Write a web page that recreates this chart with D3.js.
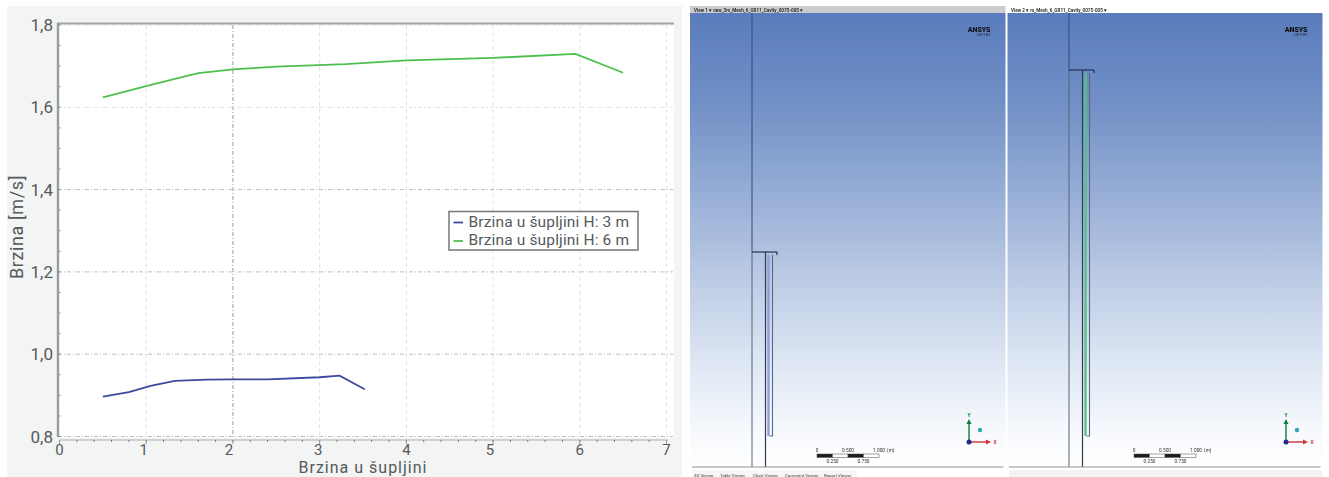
<!DOCTYPE html>
<html><head><meta charset="utf-8">
<style>html,body{margin:0;padding:0;background:#fff;overflow:hidden}svg{display:block}text{font-family:Roboto,sans-serif}</style>
<script src="https://cdn.jsdelivr.net/npm/d3@7"></script></head><body>
<svg id="c" width="1329" height="477"></svg>
<script>
const xTickValues=[0,1,2,3,4,5,6,7];
const yTickValues=[0.8,1.0,1.2,1.4,1.6,1.8];
const blueX=[0.5,0.8,1.05,1.33,1.7,2,2.4,3,3.23,3.52];
const blueY=[0.897,0.908,0.923,0.935,0.938,0.939,0.939,0.944,0.948,0.915];
const greenX=[0.5,1.1,1.6,2,2.5,3.3,4,5,5.95,6.5];
const greenY=[1.624,1.657,1.683,1.692,1.699,1.705,1.714,1.72,1.73,1.684];
const seriesNames=["Brzina u šupljini H: 3 m","Brzina u šupljini H: 6 m"];
const xTitle="Brzina u šupljini", yTitle="Brzina [m/s]";
const scaleTop=["0","0.500","1.000"], scaleBottom=["0.250","0.750"];
const tabs=["3D Viewer","Table Viewer","Chart Viewer","Comment Viewer","Report Viewer"];

const svg=d3.select("#c");
const x=d3.scaleLinear().domain([0,7]).range([59.5,666.5]);
const y=d3.scaleLinear().domain([0.8,1.8]).range([436.5,25]);
const text="#55595c";
const xLabelNudge=[0,-2.5,-4,-1.5,0,-3,0,0];
const defs=svg.append("defs");
const grad=defs.append("linearGradient").attr("id","bg").attr("x1",0).attr("x2",0).attr("y1",0).attr("y2",1);
[[0,"#5a7cbc"],[0.2,"#7190c6"],[0.4,"#97aed6"],[0.6,"#bfcde6"],[0.8,"#e3ebf6"],[0.93,"#f8fafd"],[1,"#ffffff"]]
 .forEach(s=>grad.append("stop").attr("offset",s[0]).attr("stop-color",s[1]));
defs.append("filter").attr("id","soft").append("feGaussianBlur").attr("stdDeviation",0.45);
defs.append("filter").attr("id","blur2").append("feGaussianBlur").attr("stdDeviation",0.3);

/* left chart */
svg.append("rect").attr("x",7).attr("y",6).attr("width",675).attr("height",471).attr("fill","#f3f4f4");
svg.append("rect").attr("x",58).attr("y",23).attr("width",616).attr("height",415).attr("fill","#fff");
const plot=svg.append("g").attr("filter","url(#blur2)");
const minorX=d3.range(0,7.01,0.2), minorY=d3.range(0.8,1.801,0.05);
plot.selectAll(".gx").data(xTickValues.slice(1)).join("line")
 .attr("x1",x).attr("x2",x).attr("y1",25).attr("y2",437)
 .attr("stroke",d=>d===2?"#9a9a9a":"#e2e2e2").attr("stroke-width",1).attr("stroke-dasharray",d=>d===2?"4 2 1 2":"4 3");
plot.selectAll(".gy").data(yTickValues).join("line")
 .attr("y1",y).attr("y2",y).attr("x1",58).attr("x2",673)
 .attr("stroke",d=>(d>=1.0&&d<=1.4)||d===0.8?"#bcbcbc":"#e0e0e0").attr("stroke-width",1).attr("stroke-dasharray","4 2 1 2");
plot.append("line").attr("x1",57).attr("x2",674).attr("y1",23.5).attr("y2",23.5).attr("stroke","#a4a4a4").attr("stroke-width",1.8);
plot.append("line").attr("x1",58).attr("x2",58).attr("y1",23).attr("y2",437).attr("stroke","#9a9c9e").attr("stroke-width",2.4);
plot.selectAll(".my").data(minorY).join("line").attr("x1",58).attr("x2",60.5).attr("y1",y).attr("y2",y).attr("stroke","#8a8a8a");
plot.append("line").attr("x1",59.5).attr("x2",668).attr("y1",440).attr("y2",440).attr("stroke","#c6c6c6").attr("stroke-width",1.3);
plot.selectAll(".mx").data(minorX).join("line").attr("x1",x).attr("x2",x).attr("y1",440).attr("y2",442).attr("stroke","#777");
plot.selectAll(".tx").data(xTickValues).join("line").attr("x1",x).attr("x2",x).attr("y1",440).attr("y2",444).attr("stroke","#999");

const line=d3.line().x(d=>x(d[0])).y(d=>y(d[1]));
plot.append("path").datum(d3.zip(blueX,blueY)).attr("d",line).attr("fill","none").attr("stroke","#3a4a9f").attr("stroke-width",1.8);
plot.append("path").datum(d3.zip(greenX,greenY)).attr("d",line).attr("fill","none").attr("stroke","#4fc04f").attr("stroke-width",1.8);

svg.selectAll(".xl").data(xTickValues).join("text").attr("x",(d,i)=>x(d)+xLabelNudge[i]).attr("y",455)
 .attr("text-anchor","middle").attr("font-size",15).attr("fill",text).text(d=>d);
svg.selectAll(".yl").data(yTickValues).join("text").attr("x",53).attr("y",d=>y(d)+6)
 .attr("text-anchor","end").attr("font-size",17).attr("fill",text).text(d=>d.toFixed(1).replace(".",","));
svg.append("text").attr("x",363).attr("y",473).attr("text-anchor","middle").attr("font-size",16).attr("letter-spacing",1).attr("fill",text).text(xTitle);
svg.append("text").attr("transform","translate(23,227) rotate(-90)").attr("text-anchor","middle").attr("font-size",18).attr("letter-spacing",0.6).attr("fill",text).text(yTitle);

const lg=svg.append("g");
lg.append("rect").attr("x",449).attr("y",211.5).attr("width",189).attr("height",38.5).attr("fill","#fff").attr("stroke","#73777a").attr("stroke-width",1.5);
[["#3a4a9f",221],["#4fc04f",239.5]].forEach((c,i)=>{
 lg.append("line").attr("x1",453.5).attr("x2",463).attr("y1",c[1]+1.5).attr("y2",c[1]+1.5).attr("stroke",c[0]).attr("stroke-width",1.8);
 lg.append("text").attr("x",468.5).attr("y",c[1]+5.5).attr("font-size",15.5).attr("letter-spacing",0.15).attr("fill",text).text(seriesNames[i]);
});

/* right panels */
function panel(left,width,topY,title,header,accent,extraLeft){
 const g=svg.append("g").attr("filter","url(#soft)");
 const px=v=>left+v;
 g.append("rect").attr("x",left-extraLeft).attr("y",6).attr("width",width+extraLeft).attr("height",7).attr("fill",header);
 g.append("text").attr("x",left+2).attr("y",11.5).attr("font-size",4.6).attr("font-weight",700).attr("fill","#333").text(title);
 g.append("rect").attr("x",left-extraLeft).attr("y",13).attr("width",width+extraLeft).attr("height",454).attr("fill","url(#bg)");
 g.append("line").attr("x1",px(60)).attr("x2",px(60)).attr("y1",13).attr("y2",topY).attr("stroke","#2f4a80").attr("stroke-width",1);
 g.append("line").attr("x1",px(60)).attr("x2",px(60)).attr("y1",topY).attr("y2",467).attr("stroke","#55627a").attr("stroke-width",1);
 g.append("line").attr("x1",px(60)).attr("x2",px(85)).attr("y1",topY).attr("y2",topY).attr("stroke","#222f55").attr("stroke-width",1.2);
 g.append("line").attr("x1",px(85)).attr("x2",px(85)).attr("y1",topY).attr("y2",topY+3).attr("stroke","#222f55").attr("stroke-width",1.2);
 g.append("line").attr("x1",px(73.5)).attr("x2",px(73.5)).attr("y1",topY).attr("y2",467).attr("stroke","#333a50").attr("stroke-width",1.2);
 g.append("rect").attr("x",px(75.3)).attr("y",topY+3).attr("width",2.4).attr("height",436-topY-3).attr("fill",accent);
 g.append("path").attr("d",`M${px(80.5)},${topY+3}V436H${px(77.5)}`).attr("fill","none").attr("stroke","#5d6880").attr("stroke-width",1.1);
 g.append("line").attr("x1",left).attr("x2",left+width-2).attr("y1",467).attr("y2",467).attr("stroke","#8d9094").attr("stroke-width",1);
 g.append("text").attr("x",px(298.5)).attr("y",31.5).attr("text-anchor","end").attr("font-size",7).attr("font-weight",900).attr("fill","#111").text("ANSYS");
 g.append("text").attr("x",px(298.5)).attr("y",36).attr("text-anchor","end").attr("font-size",3.8).attr("fill","#222").text("2019 R2");
 const bar=d3.scaleLinear().domain([0,1]).range([px(125),px(187)]);
 [0,0.25,0.5,0.75].forEach((d,i)=>g.append("rect").attr("x",bar(d)).attr("y",454).attr("width",bar(0.25)-bar(0)).attr("height",3.4)
   .attr("fill",i%2?"#fff":"#1c1c1c").attr("stroke","#444").attr("stroke-width",0.5));
 [0,0.5,1].forEach((d,i)=>g.append("text").attr("x",bar(d)).attr("y",452).attr("text-anchor","middle").attr("font-size",4.8).attr("fill","#333").text(scaleTop[i]));
 g.append("text").attr("x",bar(1)+8).attr("y",452).attr("font-size",4.8).attr("fill","#333").text("(m)");
 [0.25,0.75].forEach((d,i)=>g.append("text").attr("x",bar(d)).attr("y",463).attr("text-anchor","middle").attr("font-size",4.8).attr("fill","#333").text(scaleBottom[i]));
 const ox=px(277),oy=442;
 g.append("line").attr("x1",ox).attr("x2",ox).attr("y1",oy).attr("y2",422).attr("stroke","#0f7f3c").attr("stroke-width",1.4);
 g.append("path").attr("d",`M${ox-2.5},424L${ox},419L${ox+2.5},424Z`).attr("fill","#0f7f3c");
 g.append("line").attr("x1",ox).attr("x2",ox+18).attr("y1",oy).attr("y2",oy).attr("stroke","#d0323a").attr("stroke-width",1.4);
 g.append("path").attr("d",`M${ox+17},${oy-2.5}L${ox+22},${oy}L${ox+17},${oy+2.5}Z`).attr("fill","#d0323a");
 g.append("circle").attr("cx",ox).attr("cy",oy).attr("r",2.5).attr("fill","#232a8c");
 g.append("circle").attr("cx",ox+11).attr("cy",oy-12).attr("r",2.2).attr("fill","#2fa8b4");
 g.append("text").attr("x",ox).attr("y",417).attr("text-anchor","middle").attr("font-size",5).attr("font-weight",700).attr("fill","#0f7f3c").text("Y");
 g.append("text").attr("x",ox+26).attr("y",444).attr("text-anchor","middle").attr("font-size",5).attr("font-weight",700).attr("fill","#d0323a").text("X");
}
panel(692,313.5,252,"View 1  \u25BE   new_3m_Mesh_6_GR11_Cavity_0075-005  \u25BE","#c9cbcd","#8f9fdc",2);
panel(1009,313.5,70,"View 2  \u25BE   m_Mesh_6_GR11_Cavity_0075-005  \u25BE","#ffffff","#57c08a",1.5);
svg.append("rect").attr("x",1009).attr("y",470).attr("width",313).attr("height",7).attr("fill","#f3f3f3");
svg.append("rect").attr("x",692).attr("y",470).attr("width",165).attr("height",7).attr("fill","#f6f6f6");
const tg=svg.append("g").attr("filter","url(#soft)");
const tabX=d3.scalePoint().domain(tabs).range([694,824]);
const tabPos=[694,720,753,785,824];
tg.selectAll(".tab").data(tabs).join("text").attr("x",(d,i)=>tabPos[i]).attr("y",476.5).attr("font-size",4.4).attr("fill","#444").text(d=>d);
</script></body></html>
